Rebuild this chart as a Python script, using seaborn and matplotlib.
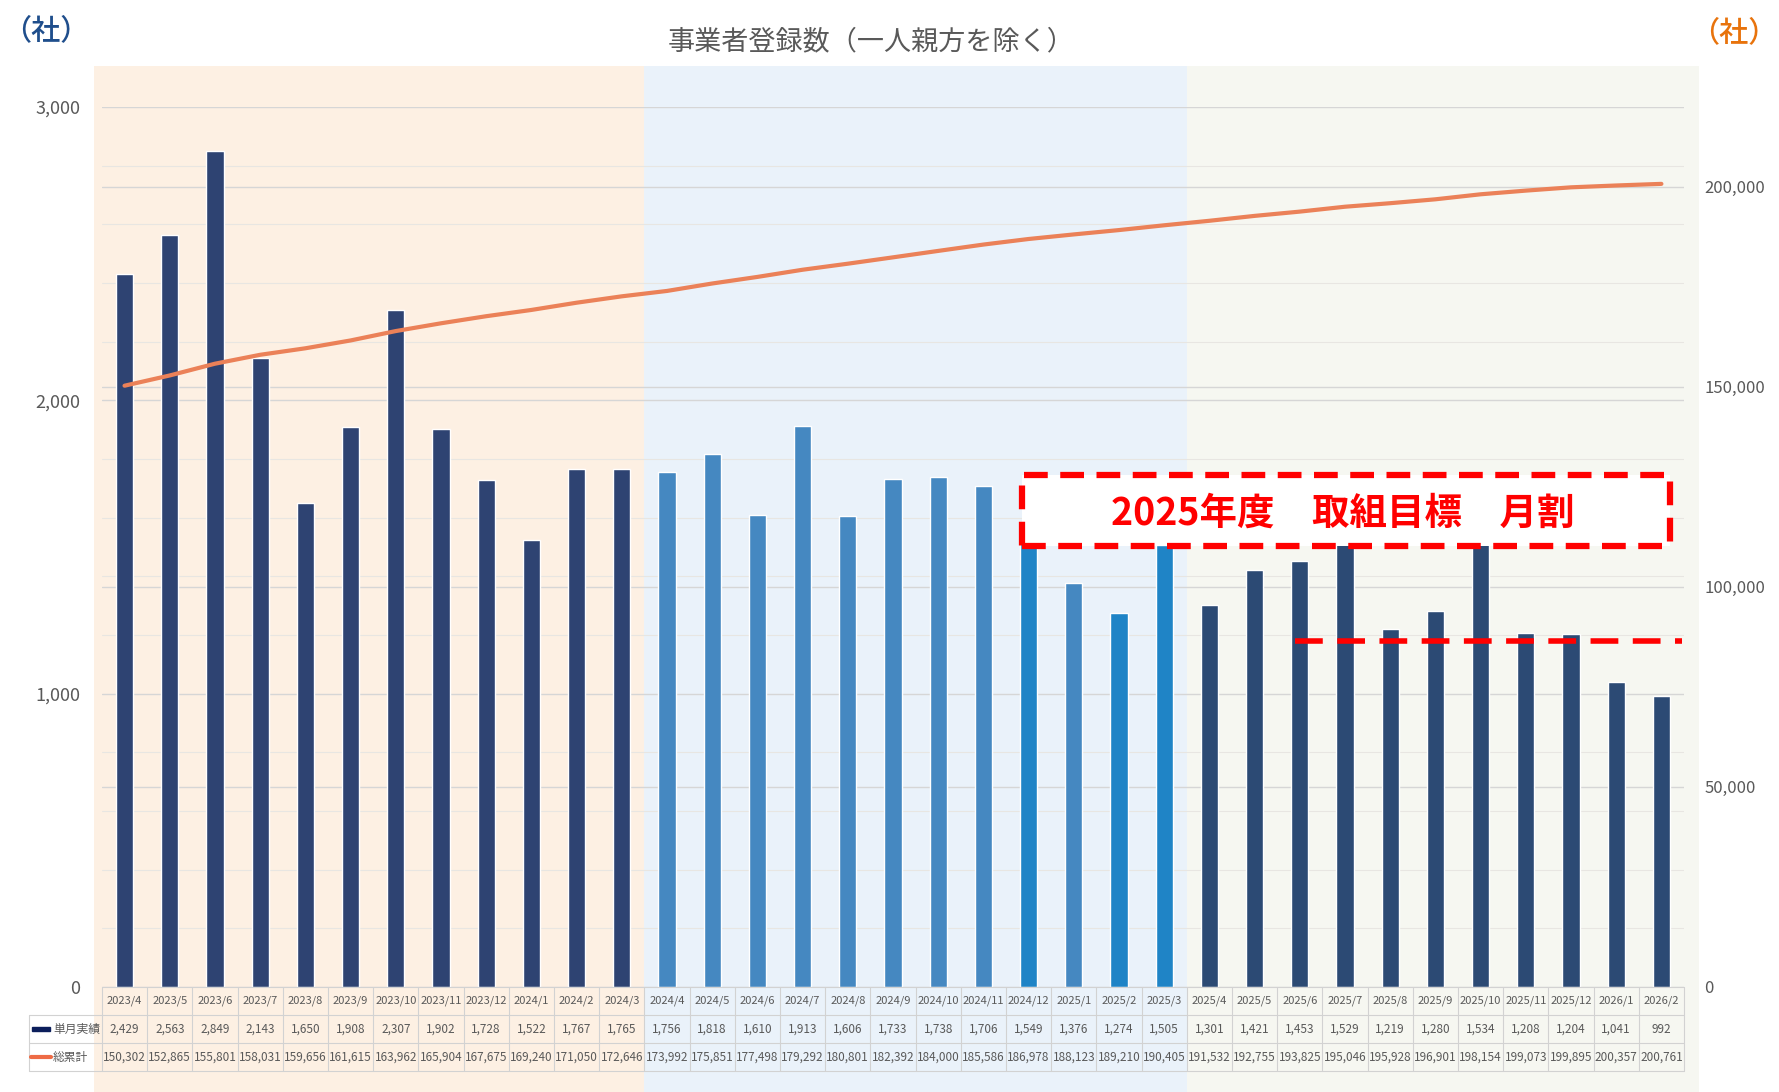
import matplotlib.pyplot as plt
import matplotlib.patches as mpatches
import matplotlib.ticker as mticker
import numpy as np
import seaborn as sns

# Data
months = ["2023/4", "2023/5", "2023/6", "2023/7", "2023/8", "2023/9", "2023/10", "2023/11", "2023/12",
          "2024/1", "2024/2", "2024/3", "2024/4", "2024/5", "2024/6", "2024/7", "2024/8", "2024/9",
          "2024/10", "2024/11", "2024/12", "2025/1", "2025/2", "2025/3", "2025/4", "2025/5", "2025/6",
          "2025/7", "2025/8", "2025/9", "2025/10", "2025/11", "2025/12", "2026/1", "2026/2"]
monthly = [2429, 2563, 2849, 2143, 1650, 1908, 2307, 1902, 1728, 1522, 1767, 1765,
           1756, 1818, 1610, 1913, 1606, 1733, 1738, 1706, 1549, 1376, 1274, 1505,
           1301, 1421, 1453, 1529, 1219, 1280, 1534, 1208, 1204, 1041, 992]
cumulative = [150302, 152865, 155801, 158031, 159656, 161615, 163962, 165904, 167675, 169240, 171050, 172646,
              173992, 175851, 177498, 179292, 180801, 182392, 184000, 185586, 186978, 188123, 189210, 190405,
              191532, 192755, 193825, 195046, 195928, 196901, 198154, 199073, 199895, 200357, 200761]
fiscal_years = ["2023"] * 12 + ["2024"] * 12 + ["2025"] * 11
highlighted = ["2024/12", "2025/2", "2025/3"]
target_monthly = 1180
target_start = "2025/6"

title = "事業者登録数（一人親方を除く）"
unit_label = "（社）"
row_labels = ["単月実績", "総累計"]
target_text = "2025年度　取組目標　月割"

# Styling
fy_colors = {"2023": "#2E4372", "2024": "#4588C1", "2025": "#2C4A74"}
fy_bg = {"2023": "#FDF0E3", "2024": "#EAF2FA", "2025": "#F6F7F1"}
bright_blue = "#1F84C6"
line_color = "#EB8158"
text_gray = "#595959"
red = "#FF0000"

sns.set_style("white")
plt.rcParams["font.family"] = ["Liberation Sans Narrow", "Noto Sans CJK JP", "DejaVu Sans"]

n = len(months)
idx = np.arange(n)
bar_palette = [bright_blue if m in highlighted else fy_colors[fy] for m, fy in zip(months, fiscal_years)]

fig = plt.figure(figsize=(17.79, 10.92), dpi=100)
ax = fig.add_axes([0.0573, 0.0962, 0.8893, 0.8059])
ax_bg = ax.twinx()
ax2 = ax.twinx()
ax_bg.set_zorder(-1)
ax.patch.set_visible(False)

# fiscal year background bands + right axis grid (bottom layer)
for fy in ["2023", "2024", "2025"]:
    pos = [i for i in idx if fiscal_years[i] == fy]
    lo = pos[0] - 0.5 if fy != "2023" else pos[0] - 0.68
    hi = pos[-1] + 0.5 if fy != "2025" else pos[-1] + 0.83
    band = ax_bg.axvspan(lo, hi, ymin=-0.12, ymax=1.047, color=fy_bg[fy], lw=0, zorder=0)
    band.set_clip_on(False)
ax_bg.set_ylim(0, 220000)
ax_bg.set_yticks(np.arange(50000, 200001, 50000))
ax_bg.grid(axis="y", color="#D6D6D6", lw=1)
ax_bg.tick_params(right=False, labelright=False)

# bars
sns.barplot(x=months, y=monthly, hue=months, palette=bar_palette, width=0.38,
            saturation=1, legend=False, ax=ax, zorder=2)
ax.set_ylim(0, 3000)
ax.set_xlim(-0.5, n - 0.5)
ax.set_yticks([0, 1000, 2000, 3000])
ax.set_yticks(np.arange(0, 3001, 200), minor=True)
ax.set_axisbelow(True)
ax.grid(axis="y", which="major", color="#D6D6D6", lw=1)
ax.grid(axis="y", which="minor", color="#E8E6E2", lw=0.8)
ax.yaxis.set_major_formatter(mticker.FuncFormatter(lambda v, p: f"{v:,.0f}"))
ax.tick_params(axis="x", bottom=False, labelbottom=False)
ax.tick_params(axis="y", which="both", left=False, labelsize=13, labelcolor=text_gray, pad=12)
ax.set_xlabel("")
ax.set_ylabel("")

# cumulative line
sns.lineplot(x=idx, y=cumulative, ax=ax2, color=line_color, linewidth=3)
ax2.set_ylim(0, 220000)
ax2.set_yticks(np.arange(0, 200001, 50000))
ax2.yaxis.set_major_formatter(mticker.FuncFormatter(lambda v, p: f"{v:,.0f}"))
ax2.tick_params(axis="y", right=False, labelsize=12, labelcolor=text_gray, pad=11)
ax2.set_xlabel("")
ax2.set_ylabel("")

for a in (ax, ax_bg, ax2):
    for s in a.spines.values():
        s.set_visible(False)

# target annotation
t0 = months.index(target_start)
ax.plot([t0 - 0.1, n - 0.55], [target_monthly, target_monthly], color=red, lw=4,
        linestyle=(0, (5, 2.6)), zorder=4, solid_capstyle="butt")
box = mpatches.Rectangle((19.85, 1502), 14.35, 243, facecolor="white", edgecolor=red,
                         lw=4.5, linestyle=(0, (3.8, 2.0)), zorder=5)
ax.add_patch(box)
ax.text(26.96, 1614, target_text, color=red, fontsize=27, fontweight="bold",
        family=["Noto Sans CJK JP"], ha="center", va="center", zorder=6)

# titles / units
fig.text(0.4897, 0.962, title, ha="center", va="center", fontsize=19.5, color=text_gray,
         family=["Noto Sans CJK JP"])
fig.text(0.001, 0.972, unit_label, ha="left", va="center", fontsize=21, color="#1F4E8C",
         fontweight="medium", family=["Noto Sans CJK JP"])
fig.text(0.999, 0.970, unit_label, ha="right", va="center", fontsize=21, color="#E8730C",
         fontweight="medium", family=["Noto Sans CJK JP"])

# data table under the chart
tab = fig.add_axes([0.0573, 0.0192, 0.8893, 0.0769])
tab.set_xlim(-0.5, n - 0.5)
tab.set_ylim(0, 3)
tab.axis("off")
grid_kw = dict(color="#D2D2D2", lw=0.8, clip_on=False)
label_left = -2.115
for yv in [0, 1, 2]:
    tab.plot([label_left, n - 0.5], [yv, yv], **grid_kw)
tab.plot([-0.5, n - 0.5], [3, 3], **grid_kw)
tab.plot([label_left, label_left], [0, 2], **grid_kw)
for k in range(n + 1):
    tab.plot([k - 0.5, k - 0.5], [0, 3], **grid_kw)
for i in idx:
    tab.text(i, 2.5, months[i], ha="center", va="center", fontsize=8, color=text_gray)
    tab.text(i, 1.5, f"{monthly[i]:,}", ha="center", va="center", fontsize=8.5, color=text_gray)
    tab.text(i, 0.5, f"{cumulative[i]:,}", ha="center", va="center", fontsize=8.5, color=text_gray)
sw = mpatches.Rectangle((-2.05, 1.43), 0.4, 0.16, color="#0B1E5B", clip_on=False)
tab.add_patch(sw)
tab.plot([-2.07, -1.62], [0.5, 0.5], color="#EE6B45", lw=3, clip_on=False)
tab.text(-1.58, 1.5, row_labels[0], ha="left", va="center", fontsize=8.5, color=text_gray,
         family=["Noto Sans CJK JP"])
tab.text(-1.58, 0.5, row_labels[1], ha="left", va="center", fontsize=8.5, color=text_gray,
         family=["Noto Sans CJK JP"])

fig.savefig("out.png", dpi=100)
